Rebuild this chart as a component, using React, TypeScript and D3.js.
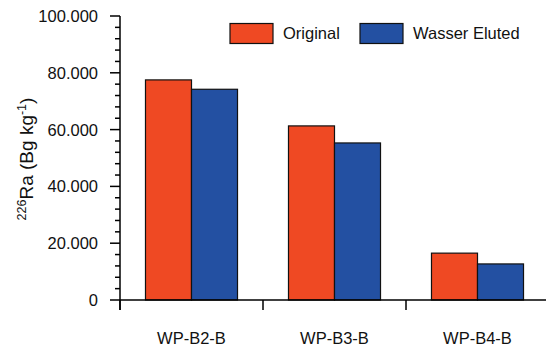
import React from "react";
import * as d3 from "d3";

const samples = ["WP-B2-B", "WP-B3-B", "WP-B4-B"];
const seriesNames = ["Original", "Wasser Eluted"];
const original = [77500, 61300, 16500];
const eluted = [74200, 55300, 12700];
const yTicks = [0, 20000, 40000, 60000, 80000, 100000];

const colors = ["#EF4923", "#2350A2"];
const font = "Arial, 'Liberation Sans', Helvetica, sans-serif";

// german style grouping: 100.000
const de = d3.formatLocale({ decimal: ",", thousands: ".", grouping: [3], currency: ["", " €"] });
const fmt = de.format(",");

export default function App() {
  const width = 546;
  const height = 349;
  const left = 120;
  const top = 16;
  const bottom = 300;

  const y = d3.scaleLinear().domain([0, 100000]).range([bottom, top]);
  const x = d3.scaleBand().domain(samples).range([left, left + 3 * 143]).padding(0);
  const x1 = d3
    .scaleBand()
    .domain(seriesNames)
    .range([0, x.bandwidth()])
    .paddingInner(0)
    .paddingOuter(0.554);

  const minor = d3.range(0, 100001, 4000).filter((v) => !yTicks.includes(v));
  const rows = samples.map((s, i) => ({ sample: s, vals: [original[i], eluted[i]] }));

  return (
    <svg
      width={width}
      height={height}
      style={{ position: "absolute", left: 0, top: 0, background: "#fff" }}
      fontFamily={font}
    >
      {/* bars */}
      {rows.map((r) =>
        r.vals.map((v, j) => (
          <rect
            key={r.sample + j}
            x={x(r.sample)! + x1(seriesNames[j])!}
            y={y(v)}
            width={x1.bandwidth()}
            height={bottom - y(v)}
            fill={colors[j]}
            stroke="#111"
            strokeWidth={1.2}
          />
        ))
      )}

      {/* y axis */}
      <line x1={left} x2={left} y1={top} y2={bottom + 10} stroke="#000" strokeWidth={1.5} />
      {yTicks.map((t) => (
        <g key={t}>
          <line x1={left - 10} x2={left} y1={y(t)} y2={y(t)} stroke="#000" strokeWidth={1.5} />
          <text x={left - 22} y={y(t)} dy="0.36em" textAnchor="end" fontSize={16.5} fill="#111">
            {fmt(t)}
          </text>
        </g>
      ))}
      {minor.map((t) => (
        <line key={t} x1={left - 5} x2={left} y1={y(t)} y2={y(t)} stroke="#000" strokeWidth={1.5} />
      ))}

      {/* x axis */}
      <line x1={left} x2={width} y1={bottom} y2={bottom} stroke="#000" strokeWidth={1.5} />
      {samples.map((s) => (
        <g key={s}>
          <line x1={x(s)!} x2={x(s)!} y1={bottom} y2={bottom + 10} stroke="#000" strokeWidth={1.5} />
          <text x={x(s)! + x.bandwidth() / 2} y={343.5} textAnchor="middle" fontSize={16.5} fill="#111">
            {s}
          </text>
        </g>
      ))}

      {/* y title */}
      <text
        transform={`translate(33,159) rotate(-90)`}
        textAnchor="middle"
        fontSize={19}
        fill="#111"
      >
        <tspan fontSize={12.5} dy={-7}>226</tspan>
        <tspan dy={7}>Ra (Bg kg</tspan>
        <tspan fontSize={12.5} dy={-7}>-1</tspan>
        <tspan dy={7}>)</tspan>
      </text>

      {/* legend */}
      {seriesNames.map((n, i) => {
        const lx = [230, 360][i];
        return (
          <g key={n}>
            <rect x={lx} y={23.5} width={43} height={20} fill={colors[i]} stroke="#111" strokeWidth={1.2} />
            <text x={lx + 53} y={33.5} dy="0.36em" fontSize={16.5} fill="#111">
              {n}
            </text>
          </g>
        );
      })}
    </svg>
  );
}
